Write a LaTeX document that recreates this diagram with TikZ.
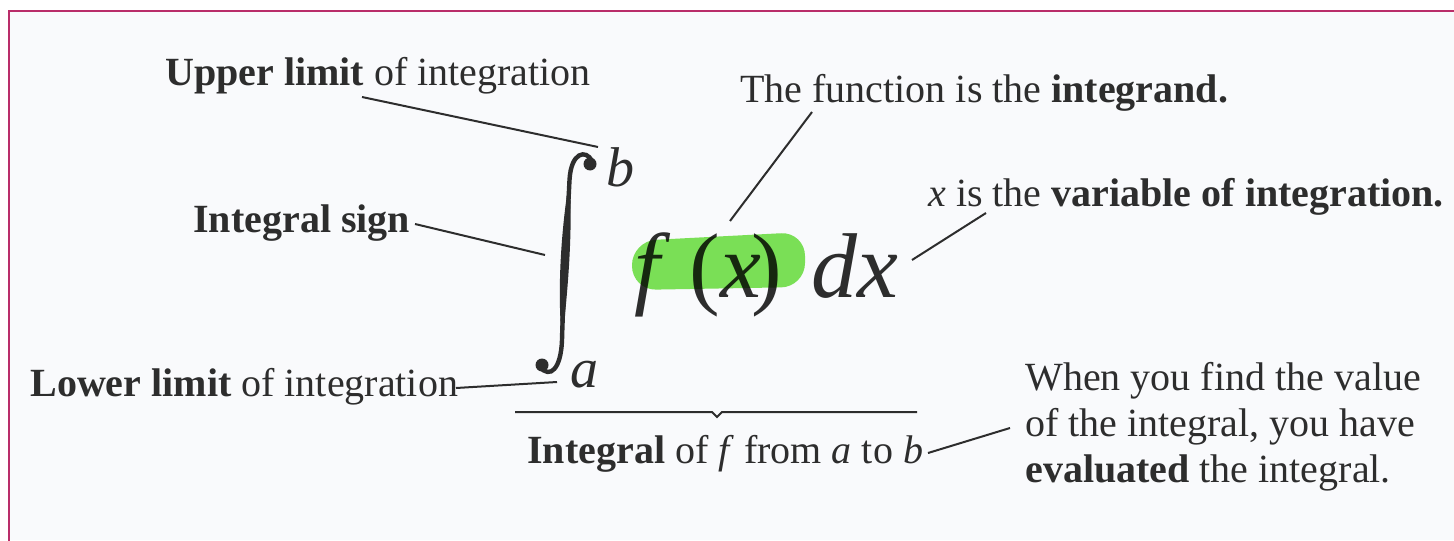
\documentclass[tikz,border=0pt]{standalone}
\usepackage{fontspec}
\setmainfont{Liberation Serif}
\definecolor{txt}{RGB}{45,45,45}
\definecolor{frame}{RGB}{185,45,105}
\definecolor{paper}{RGB}{249,250,252}
\definecolor{hilite}{RGB}{125,228,88}
\begin{document}
\begin{tikzpicture}[x=0.5pt,y=-0.5pt,
  lbl/.style={inner sep=0pt, anchor=base west, text=txt, font=\fontsize{20}{23}\selectfont},
  mth/.style={inner sep=0pt, anchor=base west, text=txt},
  lead/.style={draw=txt, line width=1pt}]
\useasboundingbox (0,0) rectangle (1454,540);
% page and frame
\fill[paper] (9,11) rectangle (1454,540);
\draw[frame, line width=1.2pt] (9,545) -- (9,11) -- (1460,11);

% labels
\node[lbl] (upper) at (165,86) {\textbf{Upper limit} of integration};
\node[lbl] (func) at (740,103) {The function is the \textbf{integrand.}};
\node[lbl] (isign) at (193,232) {\textbf{Integral sign}};
\node[lbl] (var) at (928,206) {\textit{x} is the \textbf{variable of integration.}};
\node[lbl] (lower) at (30,396) {\textbf{Lower limit} of integration};
\node[lbl] (intof) at (527,463) {\textbf{Integral} of \textit{f} from \textit{a} to \textit{b}};
\node[lbl] (eval) at (1025,390) {\vtop{\hbox{When you find the value}\hbox{of the integral, you have}\hbox{\textbf{evaluated} the integral.}}};

% integral sign
\fill[txt] (590,164) circle (6.5);
\fill[txt] (542,365) circle (6.5);
\draw[txt, line width=2.2pt, line cap=round] (592,161) .. controls (586,149) and (571,152) .. (569.5,180)
   .. controls (567,230) and (563,300) .. (562,340) .. controls (561,369) and (550,379) .. (540,367);
\fill[txt] (569.5,178) .. controls (561,230) and (557,290) .. (562,342)
   .. controls (568,290) and (573,230) .. (569.5,178) -- cycle;

% limits
\node[mth, font=\fontsize{28}{28}\selectfont] (bup) at (606,186) {\textit{b}};
\node[mth, font=\fontsize{28}{28}\selectfont] (alow) at (570,387) {\textit{a}};

% integrand
\node[mth, font=\fontsize{46}{46}\selectfont] (fx) at (634,297) {\textit{f}\hspace{9.5pt}(\textit{x}\hspace{-5pt})\hspace{15pt}\textit{dx}};
\begin{scope}[blend mode=multiply]
\fill[hilite, rounded corners=12pt] (632,241) -- (805,232) -- (805,287) -- (632,290) -- cycle;
\end{scope}

% underbrace
\coordinate (brL) at (515,412);
\coordinate (brR) at (917,412);
\coordinate (brM) at (717,417);
\draw[lead] (brL) -- ([xshift=-2.5pt]brM |- brL) -- (brM) -- ([xshift=2.5pt]brM |- brL) -- (brR);

% connector ends
\coordinate (c1a) at (362,97);  \coordinate (c1b) at (598,147);
\coordinate (c2a) at (812,112); \coordinate (c2b) at (730,221);
\coordinate (c3a) at (415,224); \coordinate (c3b) at (545,255);
\coordinate (c4a) at (912,260); \coordinate (c4b) at (986,213);
\coordinate (c5a) at (456,388); \coordinate (c5b) at (557,382);
\coordinate (c6a) at (928,453); \coordinate (c6b) at (1010,428);
\draw[lead] (c1a) -- (c1b);
\draw[lead] (c2a) -- (c2b);
\draw[lead] (c3a) -- (c3b);
\draw[lead] (c4a) -- (c4b);
\draw[lead] (c5a) -- (c5b);
\draw[lead] (c6a) -- (c6b);
\end{tikzpicture}
\end{document}
